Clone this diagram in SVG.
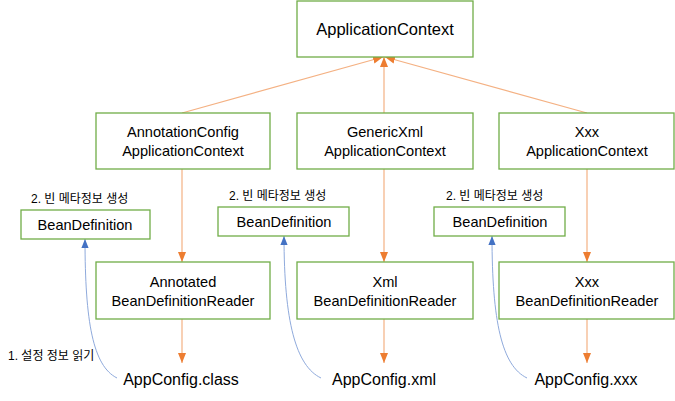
<svg xmlns="http://www.w3.org/2000/svg" width="675" height="401" viewBox="0 0 675 401">
<defs>
<marker id="ao" markerUnits="userSpaceOnUse" markerWidth="10" markerHeight="10" viewBox="0 0 10 10" refX="10" refY="5" orient="auto">
<path d="M0,1 L10,5 L0,9 z" fill="#ED7D31"/>
</marker>
<marker id="ab" markerUnits="userSpaceOnUse" markerWidth="9" markerHeight="9" viewBox="0 0 10 10" refX="10" refY="5" orient="auto">
<path d="M0,1 L10,5 L0,9 z" fill="#4472C4"/>
</marker>
<style>
.box{fill:#fff;stroke:#70AD47;stroke-width:1.3}
.t{font-family:"Liberation Sans",Arial,sans-serif;fill:#000;text-anchor:middle}
.m{font-size:14.6px}
.big{font-size:16.5px}
.k{font-family:"Liberation Sans","Noto Sans CJK KR",sans-serif;font-size:12px;fill:#000}
.o{fill:none;stroke:#F4B183;stroke-width:1.2;marker-end:url(#ao)}
.b{fill:none;stroke:#8FAADC;stroke-width:1;marker-end:url(#ab)}
</style>
</defs>
<g id="connectors">
<path class="o" d="M182,113 L383,57"/>
<path class="o" d="M384,113 L384,57"/>
<path class="o" d="M587,113 L385,57"/>
<path class="o" d="M182,169 L182,262"/>
<path class="o" d="M384,169 L384,262"/>
<path class="o" d="M587,169 L587,262"/>
<path class="o" d="M182,319 L182,363"/>
<path class="o" d="M384,319 L384,363"/>
<path class="o" d="M587,319 L587,363"/>
<path class="b" d="M117,378 C93,366 85,322 85,239"/>
<path class="b" d="M321,378 C296,366 284,322 284,236"/>
<path class="b" d="M527,378 C502,366 492,322 492,236"/>
</g>
<g id="applicationContext">
<rect class="box" x="297" y="1" width="176" height="56"/>
<text class="t big" x="385" y="35">ApplicationContext</text>
</g>
<g id="annotationConfigApplicationContext">
<rect class="box" x="96" y="113" width="174" height="56"/>
<text class="t m" x="183" y="137">AnnotationConfig</text>
<text class="t m" x="183" y="156">ApplicationContext</text>
</g>
<g id="genericXmlApplicationContext">
<rect class="box" x="297" y="113" width="176" height="56"/>
<text class="t m" x="385" y="137">GenericXml</text>
<text class="t m" x="385" y="156">ApplicationContext</text>
</g>
<g id="xxxApplicationContext">
<rect class="box" x="499" y="113" width="175" height="56"/>
<text class="t m" x="587" y="137">Xxx</text>
<text class="t m" x="587" y="156">ApplicationContext</text>
</g>
<g id="beanDefinition1">
<text class="k" x="31" y="203">2. 빈 메타정보 생성</text>
<rect class="box" x="21" y="210" width="129" height="29"/>
<text class="t m" x="85" y="230">BeanDefinition</text>
</g>
<g id="beanDefinition2">
<text class="k" x="229" y="200">2. 빈 메타정보 생성</text>
<rect class="box" x="218" y="207" width="131" height="29"/>
<text class="t m" x="284" y="227">BeanDefinition</text>
</g>
<g id="beanDefinition3">
<text class="k" x="446" y="200">2. 빈 메타정보 생성</text>
<rect class="box" x="434" y="207" width="131" height="29"/>
<text class="t m" x="500" y="227">BeanDefinition</text>
</g>
<g id="annotatedReader">
<rect class="box" x="96" y="262" width="174" height="57"/>
<text class="t m" x="183" y="287">Annotated</text>
<text class="t m" x="183" y="306">BeanDefinitionReader</text>
</g>
<g id="xmlReader">
<rect class="box" x="297" y="262" width="176" height="57"/>
<text class="t m" x="385" y="287">Xml</text>
<text class="t m" x="385" y="306">BeanDefinitionReader</text>
</g>
<g id="xxxReader">
<rect class="box" x="499" y="262" width="175" height="57"/>
<text class="t m" x="587" y="287">Xxx</text>
<text class="t m" x="587" y="306">BeanDefinitionReader</text>
</g>
<g id="appConfigClass">
<text class="t" style="font-size:16px" x="181" y="385">AppConfig.class</text>
</g>
<g id="appConfigXml">
<text class="t" style="font-size:16px" x="384" y="385">AppConfig.xml</text>
</g>
<g id="appConfigXxx">
<text class="t" style="font-size:16px" x="586" y="385">AppConfig.xxx</text>
</g>
<g id="readLabel">
<text class="k" x="8" y="360">1. 설정 정보 읽기</text>
</g>
</svg>
